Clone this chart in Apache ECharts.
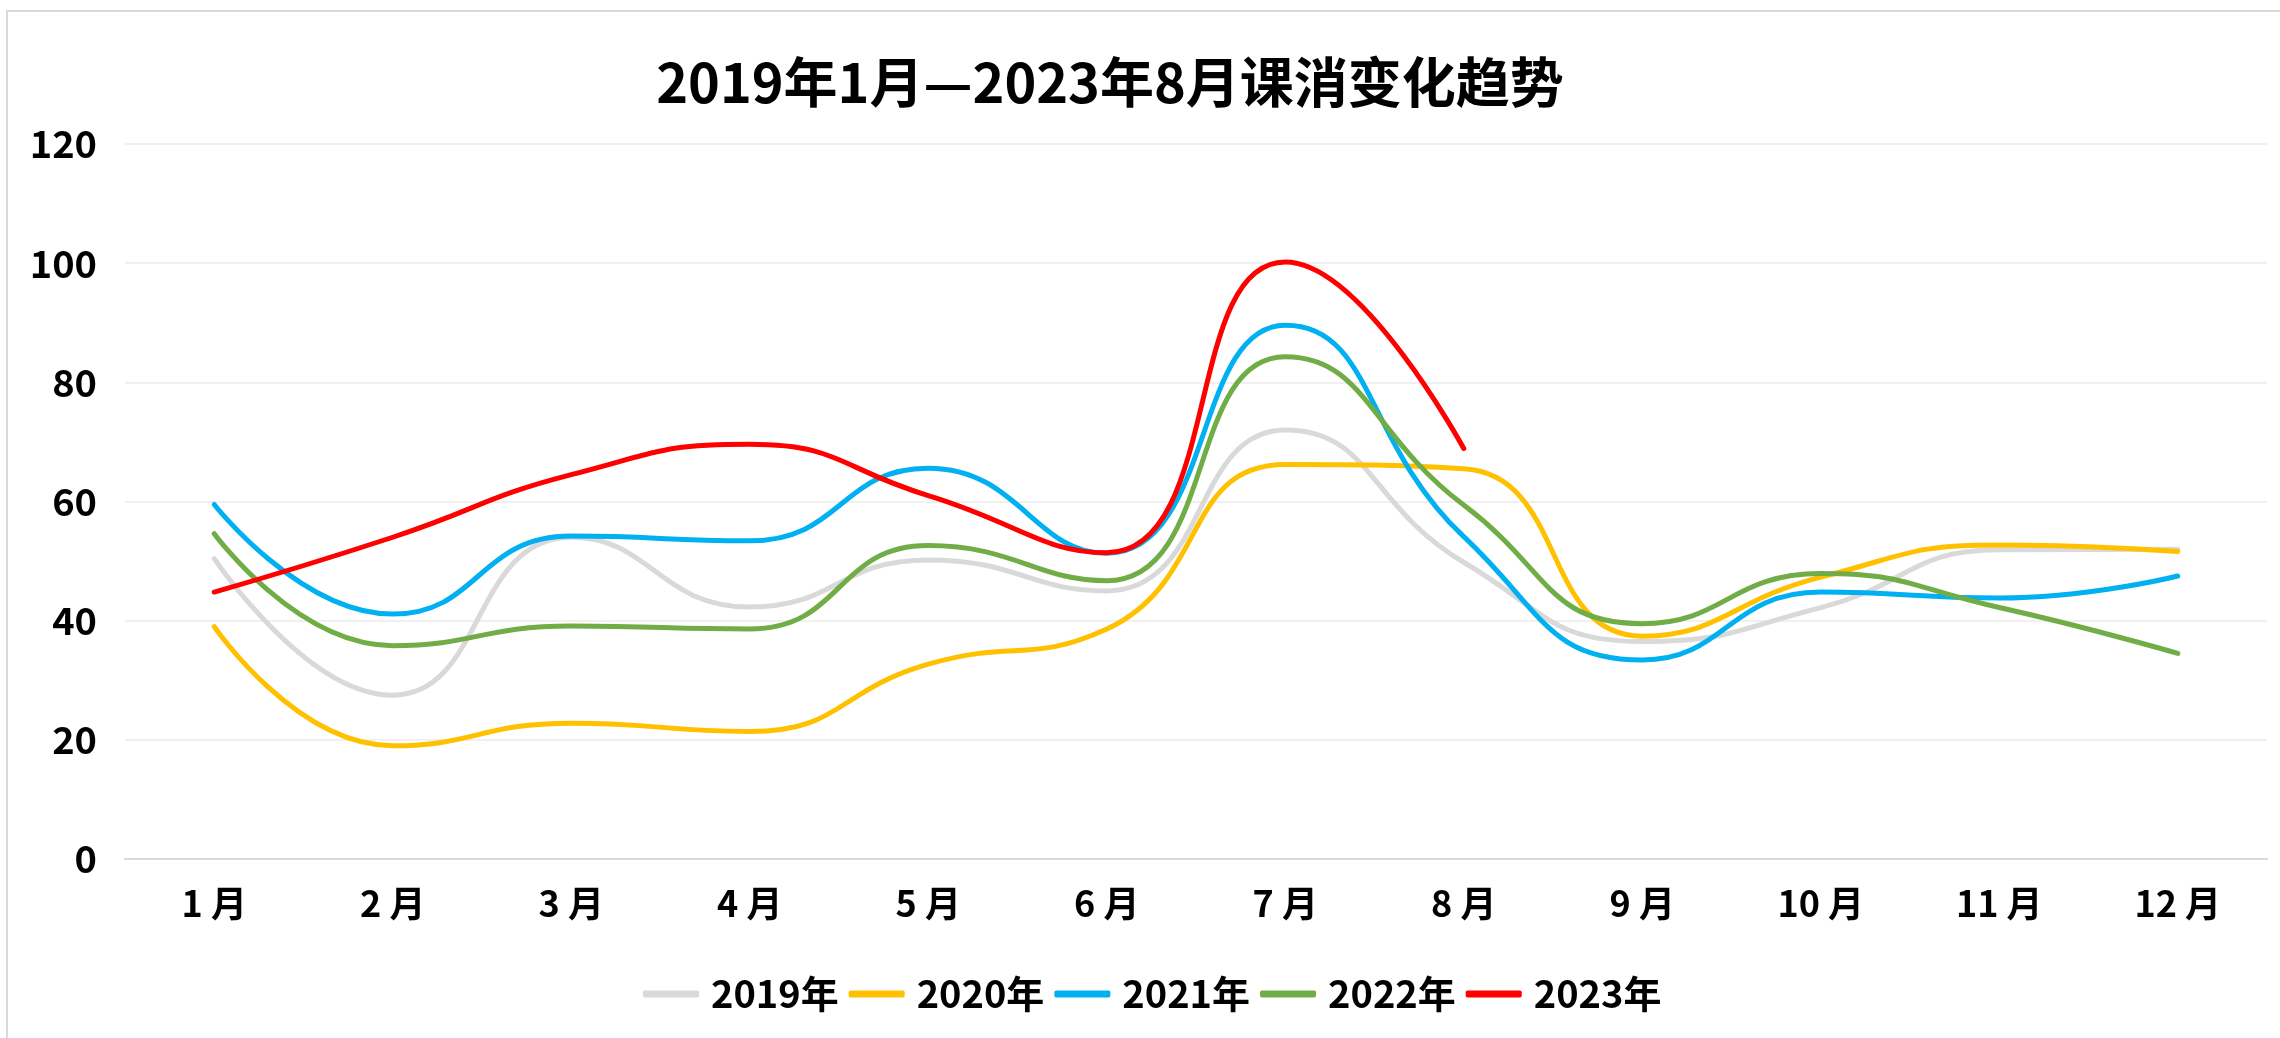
<!DOCTYPE html>
<html>
<head>
<meta charset="utf-8">
<title>课消变化趋势</title>
<script src="https://cdn.jsdelivr.net/npm/echarts@6/dist/echarts.min.js"></script>
<style>
  html, body {
    margin: 0;
    padding: 0;
    background: #fff;
  }
  #info {
    width: 2280px;
    height: 1038px;
  }
</style>
</head>
<body>
<div id="info"></div>
<script>
// months on the x axis
var months = ["1 月", "2 月", "3 月", "4 月", "5 月", "6 月", "7 月", "8 月", "9 月", "10 月", "11 月", "12 月"];
var yearNames = ["2019年", "2020年", "2021年", "2022年", "2023年"];

// values
var data2019 = [50.4, 27.5, 54, 42.3, 50.2, 45, 72, 49.8, 36.5, 42.2, 51.9, 52];
var data2020 = [39, 19, 22.8, 21.4, 32.7, 38.6, 66.2, 65.5, 37.4, 47.3, 52.7, 51.6];
var data2021 = [59.5, 41.1, 54.2, 53.4, 65.6, 51.3, 89.6, 54.1, 33.4, 44.8, 43.8, 47.5];
var data2022 = [54.6, 35.8, 39.1, 38.6, 52.6, 46.7, 84.3, 59.4, 39.5, 47.9, 42.2, 34.5];
var data2023 = [44.8, 54, 64.5, 69.6, 61, 51.4, 100.2, 68.9];

var colors = ["#D9D9D9", "#FFC000", "#00B0F0", "#70AD47", "#FF0000"];
var fontName = "'Noto Sans CJK SC', 'Microsoft YaHei', sans-serif";

function makeSeries(name, values, color) {
  return {
    name: name,
    type: "line",
    data: values,
    smooth: 0.5,
    symbol: "none",
    z: 2,
    lineStyle: {
      color: color,
      width: 5,
      cap: "round"
    },
    itemStyle: {
      color: color
    }
  };
}

var option = {
  animation: false,
  backgroundColor: "#fff",
  graphic: [
    {
      type: "rect",
      silent: true,
      shape: { x: 7, y: 11, width: 2300, height: 1100 },
      style: { fill: "none", stroke: "#D9D9D9", lineWidth: 2 }
    }
  ],
  title: {
    text: "2019年1月—2023年8月课消变化趋势",
    left: 1105,
    textAlign: "center",
    top: 50,
    textStyle: {
      fontFamily: fontName,
      fontSize: 54,
      fontWeight: "bold",
      color: "#000"
    }
  },
  legend: {
    data: yearNames,
    left: 638,
    top: 970,
    icon: "roundRect",
    itemWidth: 56,
    itemHeight: 7,
    itemGap: 10,
    textStyle: {
      fontFamily: fontName,
      fontSize: 38,
      fontWeight: "bold",
      color: "#000",
      padding: [0, 0, 0, 7]
    }
  },
  grid: {
    left: 125,
    right: 13,
    top: 144,
    bottom: 179
  },
  xAxis: {
    type: "category",
    data: months,
    boundaryGap: true,
    axisLine: {
      lineStyle: {
        color: "#D9D9D9",
        width: 2
      }
    },
    axisTick: { show: false },
    axisLabel: {
      margin: 26,
      fontFamily: fontName,
      fontSize: 36,
      fontWeight: "bold",
      color: "#000"
    }
  },
  yAxis: {
    type: "value",
    min: 0,
    max: 120,
    interval: 20,
    axisLine: { show: false },
    axisTick: { show: false },
    splitLine: {
      lineStyle: {
        color: "#F0F0F0",
        width: 2
      }
    },
    axisLabel: {
      margin: 28,
      fontFamily: fontName,
      fontSize: 38,
      fontWeight: "bold",
      color: "#000"
    }
  },
  series: [
    makeSeries(yearNames[0], data2019, colors[0]),
    makeSeries(yearNames[1], data2020, colors[1]),
    makeSeries(yearNames[2], data2021, colors[2]),
    makeSeries(yearNames[3], data2022, colors[3]),
    makeSeries(yearNames[4], data2023, colors[4])
  ]
};

var dom = document.getElementById("info");
var myChart = echarts.init(dom);
myChart.setOption(option);
window.addEventListener("resize", function() {
  myChart.resize();
});
</script>
</body>
</html>
